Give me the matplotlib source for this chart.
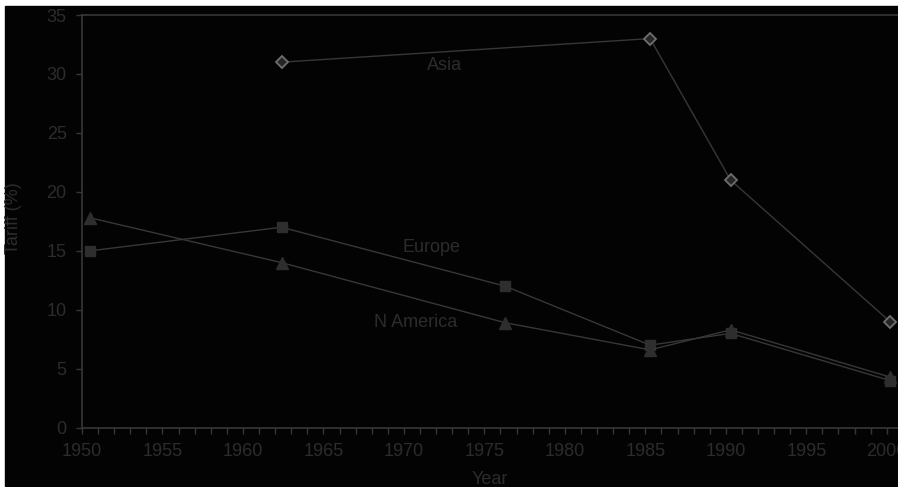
import matplotlib.pyplot as plt
from matplotlib.patches import Rectangle
from matplotlib.ticker import MultipleLocator

plt.rcParams['font.family'] = ['Liberation Sans', 'DejaVu Sans']

# Tariff levels by region
asia_years = [1962.4, 1985.3, 1990.3, 2000.2]
asia_tariff = [31, 33, 21, 9]

europe_years = [1950.5, 1962.4, 1976.3, 1985.3, 1990.3, 2000.2]
europe_tariff = [15, 17, 12, 7, 8, 4]

namerica_years = [1950.5, 1962.4, 1976.3, 1985.3, 1990.3, 2000.2]
namerica_tariff = [17.8, 14, 8.9, 6.6, 8.3, 4.3]

text_col = '#2c2c2c'
line_col = '#373737'
bg = '#030303'

fig = plt.figure(figsize=(8.98, 4.87), dpi=100, facecolor='white')
# black panel behind everything
fig.patches.append(Rectangle((5 / 898, 1 / 487), 1, 1 - 7 / 487,
                             transform=fig.transFigure, color=bg, zorder=-5))

ax = fig.add_axes([82 / 898, 1 - 427.7 / 487, 1 - 82 / 898, (427.7 - 15) / 487])
ax.set_facecolor(bg)

ax.plot(asia_years, asia_tariff, '-', color=line_col, lw=1,
        marker='D', ms=6.5, mfc='#262626', mec='#6e6e6e', mew=1.3)
ax.plot(europe_years, europe_tariff, '-', color=line_col, lw=1,
        marker='s', ms=7, mfc='#2e2e2e', mec='#2e2e2e')
ax.plot(namerica_years, namerica_tariff, '-', color=line_col, lw=1,
        marker='^', ms=8.5, mfc='#2e2e2e', mec='#2e2e2e')

ax.text(1972.5, 30.7, 'Asia', color=text_col, fontsize=13, ha='center', va='center')
ax.text(1971.7, 15.3, 'Europe', color=text_col, fontsize=13, ha='center', va='center')
ax.text(1970.7, 8.9, 'N America', color=text_col, fontsize=13, ha='center', va='center')

ax.set_xlim(1950, 2000.7)
ax.set_ylim(0, 35)
ax.xaxis.set_major_locator(MultipleLocator(5))
ax.xaxis.set_minor_locator(MultipleLocator(1))
ax.yaxis.set_major_locator(MultipleLocator(5))

ax.tick_params(axis='both', which='both', direction='out', length=4,
               width=1, color=line_col, labelcolor=text_col, labelsize=13)
ax.tick_params(axis='x', pad=7)
ax.tick_params(axis='y', pad=7)

for side in ['left', 'bottom', 'top']:
    ax.spines[side].set_color(line_col)
    ax.spines[side].set_linewidth(1.2)
ax.spines['right'].set_visible(False)

fig.text(13 / 898, 1 - 218 / 487, 'Tariff (%)', rotation=90, color=text_col,
         fontsize=13, ha='center', va='center')
fig.text(490 / 898, 1 - 480 / 487, 'Year', color=text_col,
         fontsize=13, ha='center', va='center')

fig.savefig('out.png', dpi=100, facecolor='white')
